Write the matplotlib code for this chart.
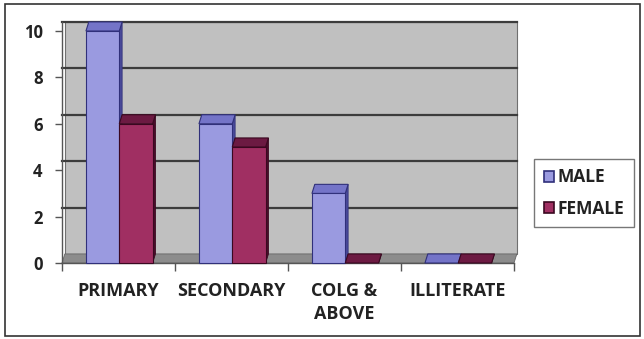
import matplotlib
matplotlib.use("Agg")
import matplotlib.pyplot as plt
from matplotlib.patches import Polygon, Rectangle
from matplotlib.lines import Line2D

categories = ["PRIMARY", "SECONDARY", "COLG &\nABOVE", "ILLITERATE"]
series_names = ["MALE", "FEMALE"]
male = [10, 6, 3, 0]
female = [6, 5, 0, 0]
y_ticks = [0, 2, 4, 6, 8, 10]

face_colors = ["#9a9ae0", "#a02f62"]
top_colors = ["#7474c8", "#6c1a42"]
side_colors = ["#4a4a9a", "#4a0c2a"]
edge_colors = ["#30307a", "#3a0820"]

W, H, DPI = 644, 339, 100
fig = plt.figure(figsize=(W / DPI, H / DPI), dpi=DPI)
fig.patch.set_facecolor("white")

# outer frame of the chart
fig.add_artist(Rectangle((5 / W, 3 / H), 635 / W, 332 / H, transform=fig.transFigure,
                         fill=False, edgecolor="#333333", lw=1.2))

dx, dy = 0.025, 0.39          # depth offset of the 3-D walls/bars (data units)
ymax = 10 + dy

left_px, right_px = 62, 514
y0_px, y10_px = 263, 31
px_per_unit = (y0_px - y10_px) / 10
top_px = y0_px - ymax * px_per_unit
ax = fig.add_axes([left_px / W, (H - y0_px) / H, (right_px - left_px) / W,
                   (y0_px - top_px) / H])
ax.set_xlim(0, 4)
ax.set_ylim(0, ymax)
ax.set_facecolor("none")

# back wall
ax.add_patch(Rectangle((dx, dy), 4, 10, facecolor="#c0c0c0", edgecolor="#707070",
                       lw=0.8, zorder=0, clip_on=False))
# floor
ax.add_patch(Polygon([(0, 0), (4, 0), (4 + dx, dy), (dx, dy)], closed=True,
                     facecolor="#8c8c8c", edgecolor="#666666", lw=0.6, zorder=1,
                     clip_on=False))
# gridlines on the back wall
for t in y_ticks[1:]:
    ax.add_line(Line2D([0, 4 + dx], [t + dy, t + dy], color="#3c3c3c", lw=1.6,
                       zorder=1, clip_on=False))

bar_w = 0.295
start = 0.212
for s, vals in enumerate([male, female]):
    for i, v in enumerate(vals):
        x0 = i + start + s * bar_w
        x1 = x0 + bar_w
        # side face
        ax.add_patch(Polygon([(x1, 0), (x1 + dx, dy), (x1 + dx, v + dy), (x1, v)],
                             closed=True, facecolor=side_colors[s],
                             edgecolor=edge_colors[s], lw=0.6, zorder=3,
                             clip_on=False))
        # front face
        if v > 0:
            ax.add_patch(Rectangle((x0, 0), bar_w, v, facecolor=face_colors[s],
                                   edgecolor=edge_colors[s], lw=0.8, zorder=4,
                                   clip_on=False))
        # top face
        ax.add_patch(Polygon([(x0, v), (x1, v), (x1 + dx, v + dy), (x0 + dx, v + dy)],
                             closed=True, facecolor=top_colors[s],
                             edgecolor=edge_colors[s], lw=0.8, zorder=4,
                             clip_on=False))

for sp in ["top", "right"]:
    ax.spines[sp].set_visible(False)
ax.spines["left"].set_color("#555555")
ax.spines["bottom"].set_color("#555555")
ax.spines["left"].set_linewidth(1.0)
ax.spines["bottom"].set_linewidth(1.0)

font = "Open Sans"
ax.set_yticks(y_ticks)
ax.set_yticklabels([str(t) for t in y_ticks], fontsize=12, fontweight="bold",
                   family=font, color="#222222")
ax.tick_params(axis="y", length=5, width=1, color="#555555", pad=9)

ax.set_xticks([0, 1, 2, 3, 4], minor=True)
ax.set_xticks([0.5, 1.5, 2.5, 3.5])
ax.set_xticklabels(categories, fontsize=13, fontweight="bold", family=font,
                   color="#222222", va="top", linespacing=1.3)
ax.tick_params(axis="x", which="major", length=0, pad=14)
ax.tick_params(axis="x", which="minor", length=6, width=1, color="#555555")

handles = [Rectangle((0, 0), 1, 1, facecolor=face_colors[k], edgecolor=edge_colors[k],
                     lw=1.2) for k in range(2)]
leg = fig.legend(handles, series_names, loc="center left",
                 bbox_to_anchor=(534 / W, 1 - 193 / H), frameon=True, fancybox=False,
                 edgecolor="#555555", handlelength=0.6, handleheight=0.6,
                 handletextpad=0.2, labelspacing=0.75, borderpad=0.55,
                 borderaxespad=0.0,
                 prop={"family": font, "weight": "bold", "size": 12.5})
leg.get_frame().set_linewidth(1.0)
for t in leg.get_texts():
    t.set_color("#222222")

fig.savefig("out.png", dpi=DPI, facecolor="white")
